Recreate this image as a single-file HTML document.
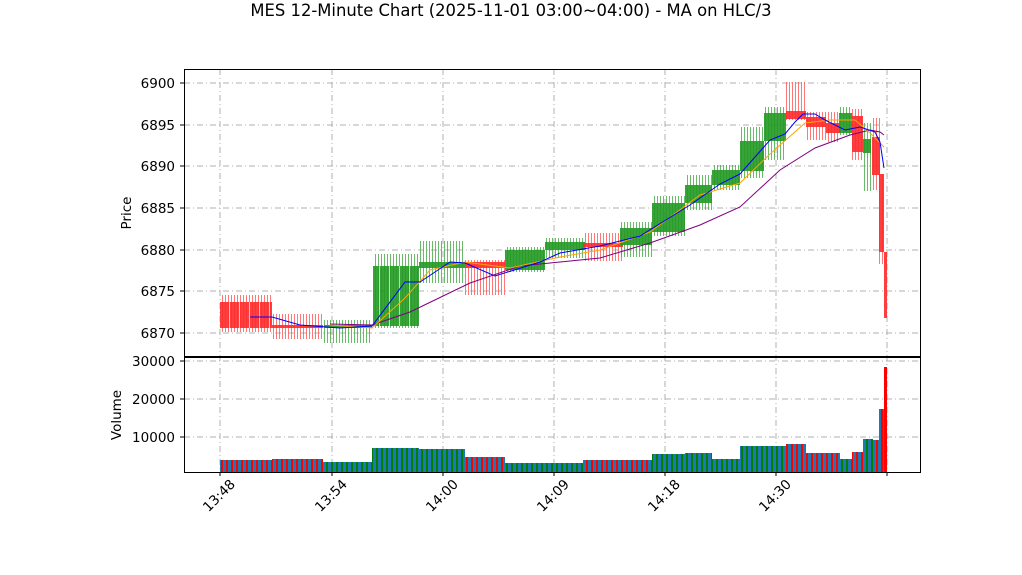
<!DOCTYPE html>
<html><head><style>body{margin:0;background:#fff}svg{display:block;font-family:"DejaVu Sans","Liberation Sans",sans-serif}</style></head><body>
<svg width="1022" height="575" viewBox="0 0 1022 575" xmlns="http://www.w3.org/2000/svg">
<defs>
<pattern id="rw" width="3" height="10" patternUnits="userSpaceOnUse"><rect x="0" y="0" width="1" height="10" fill="#ff5555" opacity="0.8"/></pattern>
<pattern id="gw" width="3" height="10" patternUnits="userSpaceOnUse"><rect x="0" y="0" width="1" height="10" fill="#44aa44" opacity="0.8"/></pattern>
<pattern id="rs" width="5" height="10" patternUnits="userSpaceOnUse"><rect width="5" height="10" fill="#1f77b4"/><rect x="1" width="2" height="10" fill="#ff0000"/></pattern>
<pattern id="gs" width="5" height="10" patternUnits="userSpaceOnUse"><rect width="5" height="10" fill="#1f77b4"/><rect x="1" width="2" height="10" fill="#008000"/></pattern>
<pattern id="gap" width="10" height="10" patternUnits="userSpaceOnUse"><rect x="9" width="1" height="10" fill="#fff" opacity="0.7"/></pattern>
</defs>
<text x="511" y="16" font-size="16.4" text-anchor="middle">MES 12-Minute Chart (2025-11-01 03:00~04:00) - MA on HLC/3</text>
<g stroke="#b0b0b0" stroke-width="1" stroke-dasharray="6,3,1,3">
<line x1="184" x2="920" y1="83" y2="83"/><line x1="184" x2="920" y1="125" y2="125"/><line x1="184" x2="920" y1="166" y2="166"/><line x1="184" x2="920" y1="208" y2="208"/><line x1="184" x2="920" y1="250" y2="250"/><line x1="184" x2="920" y1="291" y2="291"/><line x1="184" x2="920" y1="333" y2="333"/>
<line x1="184" x2="920" y1="361" y2="361"/><line x1="184" x2="920" y1="399" y2="399"/><line x1="184" x2="920" y1="437" y2="437"/>
<line x1="220" x2="220" y1="69" y2="472"/><line x1="332" x2="332" y1="69" y2="472"/><line x1="443" x2="443" y1="69" y2="472"/><line x1="554" x2="554" y1="69" y2="472"/><line x1="665" x2="665" y1="69" y2="472"/><line x1="776" x2="776" y1="69" y2="472"/><line x1="887" x2="887" y1="69" y2="472"/>
</g>
<g>
<rect x="220" y="295" width="52" height="37" fill="url(#rw)"/>
<rect x="272" y="314" width="51" height="25" fill="url(#rw)"/>
<rect x="324" y="320" width="48" height="23" fill="url(#gw)"/>
<rect x="373" y="254" width="46" height="74" fill="url(#gw)"/>
<rect x="419" y="241" width="46" height="42" fill="url(#gw)"/>
<rect x="465" y="260" width="40" height="35" fill="url(#rw)"/>
<rect x="505" y="247" width="40" height="25" fill="url(#gw)"/>
<rect x="545" y="238" width="40" height="20" fill="url(#gw)"/>
<rect x="583" y="233" width="40" height="28" fill="url(#rw)"/>
<rect x="620" y="222" width="32" height="35" fill="url(#gw)"/>
<rect x="652" y="196" width="33" height="40" fill="url(#gw)"/>
<rect x="685" y="175" width="27" height="35" fill="url(#gw)"/>
<rect x="712" y="165" width="28" height="25" fill="url(#gw)"/>
<rect x="740" y="127" width="24" height="51" fill="url(#gw)"/>
<rect x="764" y="107" width="22" height="53" fill="url(#gw)"/>
<rect x="786" y="82" width="20" height="38" fill="url(#rw)"/>
<rect x="806" y="112" width="20" height="28" fill="url(#rw)"/>
<rect x="826" y="112" width="14" height="30" fill="url(#rw)"/>
<rect x="839" y="107" width="13" height="28" fill="url(#gw)"/>
<rect x="852" y="109" width="11" height="51" fill="url(#rw)"/>
<rect x="863" y="123" width="8" height="68" fill="url(#gw)"/>
<rect x="872" y="118" width="8" height="72" fill="url(#rw)"/>
<rect x="879" y="174" width="5" height="90" fill="url(#rw)"/>
</g>
<g fill-opacity="0.9">
<rect x="220" y="302" width="52" height="26" fill="#ff2a2a"/>
<rect x="272" y="325" width="51" height="3" fill="#ff2a2a"/>
<rect x="324" y="325" width="48" height="3" fill="#229922"/>
<rect x="373" y="266" width="46" height="60" fill="#229922"/>
<rect x="419" y="262" width="46" height="6" fill="#229922"/>
<rect x="465" y="262" width="40" height="6" fill="#ff2a2a"/>
<rect x="505" y="250" width="40" height="20" fill="#229922"/>
<rect x="545" y="242" width="40" height="8" fill="#229922"/>
<rect x="583" y="243" width="40" height="4" fill="#ff2a2a"/>
<rect x="620" y="228" width="32" height="17" fill="#229922"/>
<rect x="652" y="203" width="33" height="29" fill="#229922"/>
<rect x="685" y="185" width="27" height="18" fill="#229922"/>
<rect x="712" y="170" width="28" height="15" fill="#229922"/>
<rect x="740" y="141" width="24" height="30" fill="#229922"/>
<rect x="764" y="113" width="22" height="28" fill="#229922"/>
<rect x="786" y="111" width="20" height="8" fill="#ff2a2a"/>
<rect x="806" y="117" width="20" height="10" fill="#ff2a2a"/>
<rect x="826" y="123" width="14" height="10" fill="#ff2a2a"/>
<rect x="839" y="113" width="13" height="20" fill="#229922"/>
<rect x="852" y="116" width="11" height="36" fill="#ff2a2a"/>
<rect x="863" y="139" width="8" height="14" fill="#229922"/>
<rect x="872" y="137" width="8" height="38" fill="#ff2a2a"/>
<rect x="879" y="174" width="5" height="78" fill="#ff2a2a"/>
<rect x="884" y="252" width="3" height="66" fill="#ff2a2a"/>
<rect x="220" y="302" width="52" height="26" fill="url(#gap)"/>
<rect x="373" y="266" width="46" height="60" fill="url(#gap)"/>
</g>
<polyline fill="none" stroke="#800080" stroke-width="1" points="330,324 372,325 410,312 470,283 520,266 600,258 650,243 700,225 740,207 780,170 815,148 850,135 870,130 880,132 884,135"/>
<polyline fill="none" stroke="#ffa500" stroke-width="1" points="330,325 372,328 405,298 430,270 465,262 510,268 560,257 600,250 650,232 700,195 740,183 770,154 805,123 830,120 855,120 870,133 884,147"/>
<polyline fill="none" stroke="#0000ff" stroke-width="1" points="250,317 272,317 300,325 340,328 372,326 405,282 420,282 450,262 465,263 495,276 540,262 560,253 600,246 640,236 690,205 720,184 740,174 770,140 785,134 795,122 803,114 815,114 825,120 845,130 860,127 875,132 880,142 884,168"/>
<g>
<rect x="220" y="460" width="52" height="12" fill="url(#rs)"/>
<rect x="272" y="459" width="51" height="13" fill="url(#rs)"/>
<rect x="323" y="462" width="49" height="10" fill="url(#gs)"/>
<rect x="372" y="448" width="47" height="24" fill="url(#gs)"/>
<rect x="419" y="449" width="46" height="23" fill="url(#gs)"/>
<rect x="465" y="457" width="40" height="15" fill="url(#rs)"/>
<rect x="505" y="463" width="40" height="9" fill="url(#gs)"/>
<rect x="545" y="463" width="38" height="9" fill="url(#gs)"/>
<rect x="583" y="460" width="69" height="12" fill="url(#rs)"/>
<rect x="652" y="454" width="33" height="18" fill="url(#gs)"/>
<rect x="685" y="453" width="27" height="19" fill="url(#gs)"/>
<rect x="712" y="459" width="28" height="13" fill="url(#gs)"/>
<rect x="740" y="446" width="46" height="26" fill="url(#gs)"/>
<rect x="786" y="444" width="20" height="28" fill="url(#rs)"/>
<rect x="806" y="453" width="34" height="19" fill="url(#rs)"/>
<rect x="840" y="459" width="12" height="13" fill="url(#gs)"/>
<rect x="852" y="452" width="11" height="20" fill="url(#rs)"/>
<rect x="863" y="439" width="10" height="33" fill="url(#gs)"/>
<rect x="873" y="440" width="6" height="32" fill="url(#rs)"/>
<rect x="879" y="409" width="5" height="63" fill="url(#rs)"/>
<rect x="884" y="367" width="3" height="105" fill="#ff0000"/>
</g>
<rect x="184.5" y="69.5" width="736" height="287" fill="none" stroke="#000" stroke-width="1"/>
<rect x="184.5" y="357.5" width="736" height="115" fill="none" stroke="#000" stroke-width="1"/>
<g stroke="#000">
<line x1="180" x2="184" y1="83" y2="83"/><line x1="180" x2="184" y1="125" y2="125"/><line x1="180" x2="184" y1="166" y2="166"/><line x1="180" x2="184" y1="208" y2="208"/><line x1="180" x2="184" y1="250" y2="250"/><line x1="180" x2="184" y1="291" y2="291"/><line x1="180" x2="184" y1="333" y2="333"/>
<line x1="180" x2="184" y1="361" y2="361"/><line x1="180" x2="184" y1="399" y2="399"/><line x1="180" x2="184" y1="437" y2="437"/>
<line x1="220" x2="220" y1="472" y2="476"/><line x1="332" x2="332" y1="472" y2="476"/><line x1="443" x2="443" y1="472" y2="476"/><line x1="554" x2="554" y1="472" y2="476"/><line x1="665" x2="665" y1="472" y2="476"/><line x1="776" x2="776" y1="472" y2="476"/><line x1="887" x2="887" y1="472" y2="476"/>
</g>
<g font-size="13.5" text-anchor="end">
<text x="175" y="88">6900</text><text x="175" y="130">6895</text><text x="175" y="171">6890</text><text x="175" y="213">6885</text><text x="175" y="255">6880</text><text x="175" y="296">6875</text><text x="175" y="338">6870</text>
<text x="175" y="366">30000</text><text x="175" y="404">20000</text><text x="175" y="442">10000</text>
</g>
<text transform="translate(131,213) rotate(-90)" font-size="13.5" text-anchor="middle">Price</text>
<text transform="translate(121,415) rotate(-90)" font-size="13.5" text-anchor="middle">Volume</text>
<g font-size="13.5" text-anchor="end">
<text transform="translate(236,485) rotate(-45)">13:48</text>
<text transform="translate(348,485) rotate(-45)">13:54</text>
<text transform="translate(459,485) rotate(-45)">14:00</text>
<text transform="translate(570,485) rotate(-45)">14:09</text>
<text transform="translate(681,485) rotate(-45)">14:18</text>
<text transform="translate(792,485) rotate(-45)">14:30</text>
</g>
</svg>
</body></html>
